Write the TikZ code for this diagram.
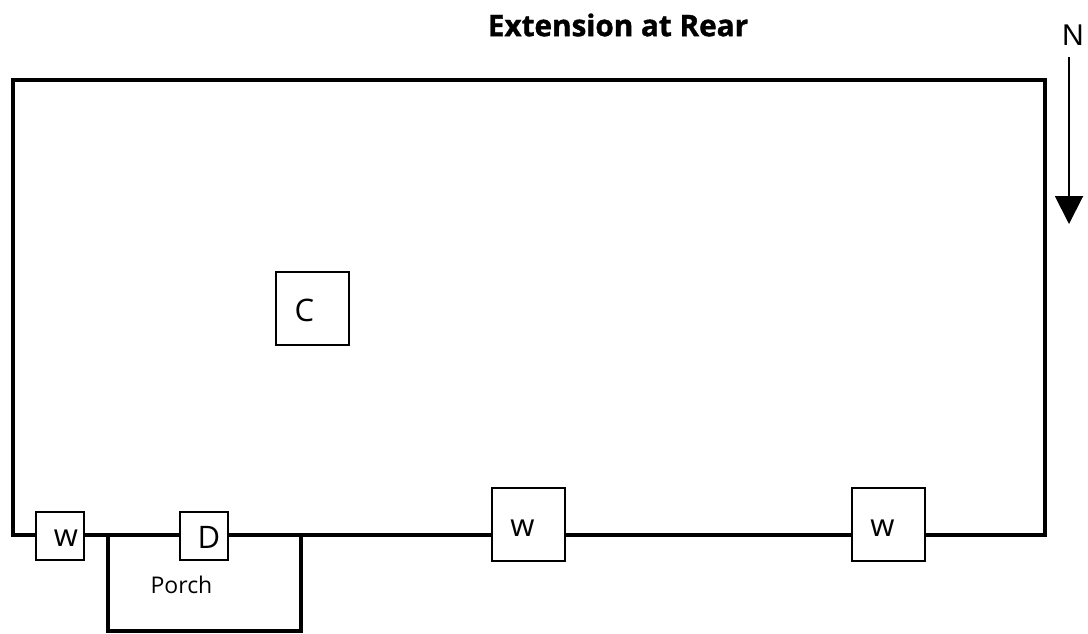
\documentclass[tikz,border=0pt]{standalone}
\usepackage{fontspec}
\setmainfont{Open Sans}
\newfontfamily\arrowfont{Liberation Sans}
\newfontfamily\titlefont[FakeBold=1.2]{Open Sans Bold}
\usetikzlibrary{positioning}
\usetikzlibrary{arrows.meta}

\begin{document}
\begin{tikzpicture}
[
x=1pt, y=-1pt,
wall-a/.style={draw, line width = 4.5pt, line join = miter},
cell-a/.style={rectangle, draw, fill=white, line width = 1.5pt, inner sep = 0pt, outer sep = 0pt, minimum size = 48pt},
cell-b/.style={cell-a, minimum size = 73pt},
text-a/.style={black, inner sep = 0pt, font=\fontsize{31}{33}\selectfont},
text-b/.style={black, inner sep = 0pt, font=\fontsize{23}{26}\selectfont}
]
\useasboundingbox (0,0) rectangle (1088,633);
% outer walls and porch
\coordinate (wall-nw) at (13,80);
\coordinate (wall-ne) at (1045,80);
\coordinate (wall-se) at (1045,535);
\coordinate (wall-sw) at (13,535);
\coordinate (porch-w) at (108,535);
\coordinate (porch-e) at (301,535);
\draw [wall-a] (wall-nw) -- (wall-ne) -- (wall-se) -- (wall-sw) -- cycle;
\draw [wall-a] (porch-w) -- (porch-w |- 0,631) -- (porch-e |- 0,631) -- (porch-e);
% boxes on the walls
\node (cell-w1) [cell-a                                ] at (60,536) {};
\node (cell-d)  [cell-a, right = 96.00pt of cell-w1    ] {};
\node (cell-w2) [cell-b, right = 264.00pt of cell-d, yshift = 11.50pt] {};
\node (cell-w3) [cell-b, right = 287.00pt of cell-w2   ] {};
\node (cell-c)  [cell-b                                ] at (312.5,308.5) {};
% labels
\node (text-w1) [text-a, xshift =  6.00pt, yshift = -2.50pt] at (cell-w1) {w};
\node (text-d)  [text-a, xshift =  5.00pt, yshift = -1.50pt] at (cell-d)  {D};
\node (text-w2) [text-a, xshift = -6.00pt, yshift = -4.00pt] at (cell-w2) {w};
\node (text-w3) [text-a, xshift = -6.00pt, yshift = -4.00pt] at (cell-w3) {w};
\node (text-c)  [text-a, xshift = -8.00pt, yshift = -1.50pt] at (cell-c)  {C};
\node (porch)   [text-b] at (181.5,585) {Porch};
\node (title)   [text-a, font=\titlefont\fontsize{29.7}{31}\selectfont] at (618,25) {Extension at Rear};
% north arrow
\node (north)   [text-a, font=\arrowfont\fontsize{30}{32}\selectfont] at (1073,35) {N};
\coordinate (north-tip) at (1069,224);
\draw [line width = 2pt, -{Triangle[length=28pt, width=28pt]}] (1069,57) -- (north-tip);
\end{tikzpicture}
\end{document}
